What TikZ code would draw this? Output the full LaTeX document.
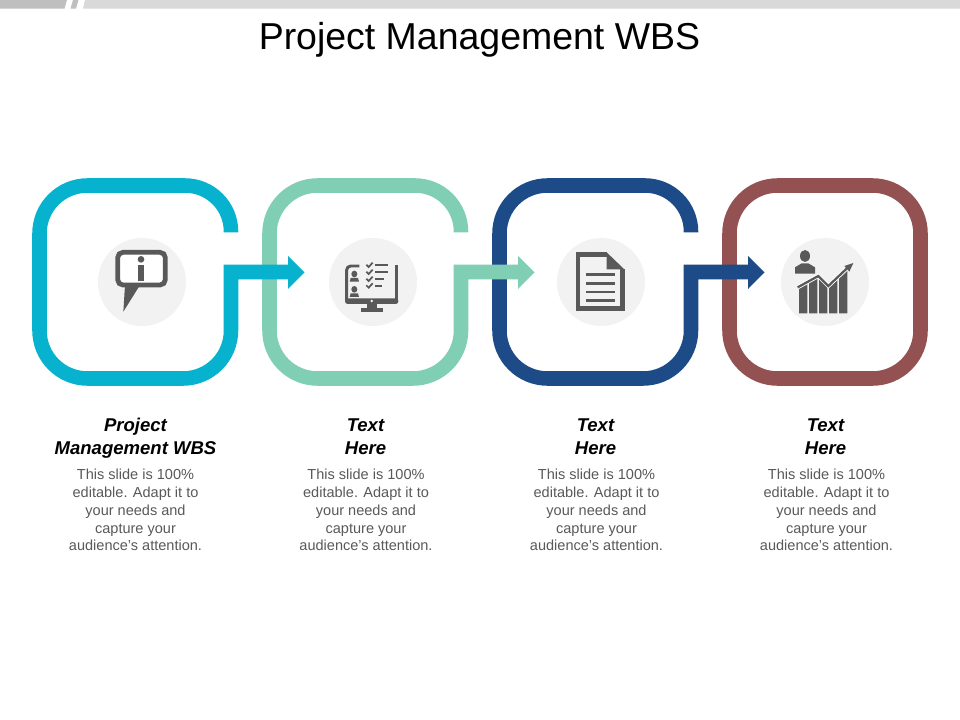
\documentclass[tikz,border=0pt]{standalone}
\usepackage{fontspec}
\setmainfont{Liberation Sans}
\definecolor{cA}{HTML}{06B2CE}
\definecolor{cB}{HTML}{80CFB4}
\definecolor{cC}{HTML}{1D4B87}
\definecolor{cD}{HTML}{945151}
\definecolor{ico}{HTML}{595959}
\definecolor{bub}{HTML}{F2F2F2}
\tikzset{
  ring/.style={line width=10.9pt,line join=miter},
  headtxt/.style={align=center,font=\fontsize{13.9}{17.3}\selectfont\bfseries\itshape,text=black,inner sep=0pt,anchor=center},
  bodytxt/.style={align=center,font=\fontsize{10.9}{13.3}\selectfont,text=ico,inner sep=0pt,anchor=north},
  disc/.style={fill=bub,draw=none,circle,minimum size=66pt,inner sep=0pt},
}
\newcommand{\openring}[2]{%
 \begin{scope}[shift={(#1,0)}]
  \draw[ring,#2] (231,232.3) -- (231,231.5) arc[start angle=0,end angle=-90,radius=46] -- (87.5,185.5) arc[start angle=-90,end angle=-180,radius=48] -- (39.5,330.5) arc[start angle=-180,end angle=-270,radius=48] -- (183,378.5) arc[start angle=-270,end angle=-360,radius=48] -- (231,272) -- (290,272);
  \fill[#2] (288,256) -- (304.5,272.3) -- (288,289) -- cycle;
 \end{scope}}
\begin{document}
\begin{tikzpicture}[x=0.75pt,y=-0.75pt]
\useasboundingbox (0,0) rectangle (960,720);
\fill[white] (0,0) rectangle (960,720);
% top bar
\fill[black!25] (0,0) -- (67,0) -- (64.5,8.7) -- (0,8.7) -- cycle;
\fill[black!25] (73,0) -- (78.5,0) -- (76,8.7) -- (70.5,8.7) -- cycle;
\fill[black!15] (85,0) -- (960,0) -- (960,8.7) -- (83,8.7) -- cycle;
\node[font=\fontsize{28.1}{30}\selectfont,text=black,inner sep=0pt] (title) at (479.5,39.5) {Project Management WBS};
% rings (right to left so each arrow lies over its neighbour)
\draw[ring,cD] (777.5,185.5) -- (872.5,185.5) arc[start angle=-90,end angle=0,radius=48] -- (920.5,330.5) arc[start angle=0,end angle=90,radius=48] -- (777.5,378.5) arc[start angle=90,end angle=180,radius=48] -- (729.5,233.5) arc[start angle=180,end angle=270,radius=48] -- cycle;
\openring{460}{cC}
\openring{230}{cB}
\openring{0}{cA}
% discs
\node[disc] (d1) at (142,282) {};
\node[disc] (d2) at (373,282) {};
\node[disc] (d3) at (601,282) {};
\node[disc] (d4) at (825,282) {};
% icon 1
\begin{scope}[shift={(90,230)},x=.25pt,y=-.25pt]
 \draw[ico,line width=3.6pt,rounded corners=4pt,fill=white] (83,67) rectangle (226,165);
 \fill[ico] (105,165) -- (150,165) -- (100,245) -- cycle;
 \fill[ico] (153,88) circle[radius=10];
 \fill[ico] (143,105) rectangle (163,153);
\end{scope}
% icon 2
\begin{scope}[shift={(320,230)},x=.25pt,y=-.25pt]
 \draw[ico,line width=2.2pt,rounded corners=3pt] (118,108) -- (80,108) -- (80,215);
 \draw[ico,line width=2.2pt] (230,106) -- (230,215);
 \fill[ico,rounded corners=2pt] (75,205) rectangle (235,222);
 \fill[ico] (140,222) rectangle (170,235);
 \fill[ico] (123,235) rectangle (190,245);
 \fill[bub] (155,213) circle[radius=4];
 \foreach \yy in {132,178}{
  \fill[ico] (103,\yy) ellipse[x radius=9,y radius=10];
  \fill[ico] (89,\yy+23) -- (92,\yy+12) -- (114,\yy+12) -- (117,\yy+23) -- cycle;
 }
 \foreach \yy in {105,126,147,167}{
  \draw[ico,line width=1.3pt] (139,\yy-1) -- (146,\yy+6) -- (158,\yy-7);
 }
 \draw[ico,line width=1.5pt] (165,104) -- (203,104);
 \draw[ico,line width=1.5pt] (165,126) -- (203,126);
 \draw[ico,line width=1.5pt] (165,147) -- (191,147);
 \draw[ico,line width=1.5pt] (165,167) -- (185,167);
\end{scope}
% icon 3
\begin{scope}[shift={(550,230)},x=.25pt,y=-.25pt]
 \draw[ico,line width=3.3pt,line join=miter] (170,73) -- (84,73) -- (84,236) -- (217,236) -- (217,118);
 \fill[ico] (170,67) -- (223,118) -- (170,118) -- cycle;
 \fill[ico] (108,130) rectangle (195,137);
 \fill[ico] (108,157) rectangle (195,164);
 \fill[ico] (108,182) rectangle (195,189);
 \fill[ico] (108,206) rectangle (195,216);
\end{scope}
% icon 4
\begin{scope}[shift={(770,230)},x=.25pt,y=-.25pt]
 \fill[ico] (105,78) ellipse[x radius=15,y radius=18];
 \fill[ico] (75,131) -- (75,112) -- (95,100) -- (115,100) -- (135,112) -- (135,131) -- cycle;
 \fill[ico] (87,250) -- (87,175) -- (112,160) -- (112,250) -- cycle;
 \fill[ico] (117,250) -- (117,157) -- (142,143) -- (142,250) -- cycle;
 \fill[ico] (147,250) -- (147,147) -- (172,172) -- (172,250) -- cycle;
 \fill[ico] (177,250) -- (177,172) -- (202,150) -- (202,250) -- cycle;
 \fill[ico] (207,250) -- (207,145) -- (232,122) -- (232,250) -- cycle;
 \draw[white,line width=3pt] (83,172) -- (145,138) -- (175,168) -- (236,110);
 \draw[ico,line width=1.7pt] (83,172) -- (145,138) -- (175,168) -- (236,110);
 \fill[ico] (250,99) -- (238,125) -- (223,108) -- cycle;
\end{scope}
% labels
\node[headtxt] (h1) at (135.5,438.5) {Project\\Management WBS};
\node[headtxt] (h2) at (365.5,436.8) {Text\\Here};
\node[headtxt] (h3) at (595.5,436.8) {Text\\Here};
\node[headtxt] (h4) at (825.5,436.8) {Text\\Here};
\foreach \n/\xx in {1/135.5,2/366,3/596.5,4/826.5}{
 \node[bodytxt] (b\n) at (\xx,469) {This slide is 100\%\\editable. Adapt  it to\\your needs and\\capture your\\audience's attention.};
}
\end{tikzpicture}
\end{document}
